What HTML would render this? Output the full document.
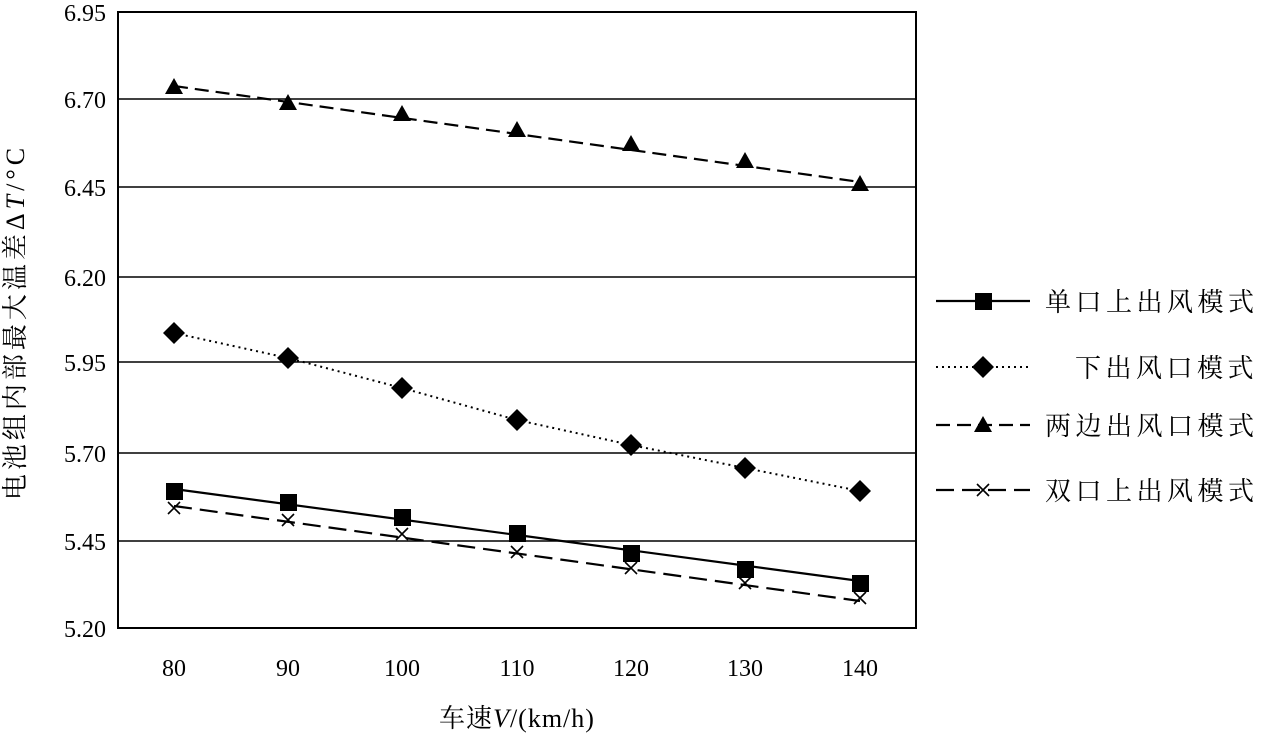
<!DOCTYPE html>
<html><head><meta charset="utf-8"><style>
body{margin:0;background:#fff}
svg text{font-family:"Liberation Serif","Noto Serif CJK SC",serif;fill:#000}
</style></head><body>
<svg width="1261" height="734" xmlns="http://www.w3.org/2000/svg">
<rect x="118" y="12" width="798" height="616" fill="none" stroke="#000" stroke-width="2"/>
<g stroke="#000" stroke-width="1.6">
<line x1="118" y1="99" x2="916" y2="99"/>
<line x1="118" y1="187" x2="916" y2="187"/>
<line x1="118" y1="277" x2="916" y2="277"/>
<line x1="118" y1="362" x2="916" y2="362"/>
<line x1="118" y1="453" x2="916" y2="453"/>
<line x1="118" y1="541" x2="916" y2="541"/>
</g>
<g font-size="24" text-anchor="end">
<text x="106" y="21">6.95</text><text x="106" y="108">6.70</text><text x="106" y="196">6.45</text>
<text x="106" y="286">6.20</text><text x="106" y="371">5.95</text><text x="106" y="462">5.70</text>
<text x="106" y="550">5.45</text><text x="106" y="637">5.20</text>
</g>
<g font-size="24" text-anchor="middle">
<text x="174" y="676">80</text><text x="288" y="676">90</text><text x="402" y="676">100</text>
<text x="517" y="676">110</text><text x="631" y="676">120</text><text x="745" y="676">130</text><text x="860" y="676">140</text>
<text x="517" y="727" font-size="26" letter-spacing="1">车速<tspan font-style="italic">V</tspan>/(km/h)</text>
</g>
<text transform="translate(24,322) rotate(-90)" font-size="26" letter-spacing="4" text-anchor="middle">电池组内部最大温差Δ<tspan font-style="italic">T</tspan>/°C</text>
<polyline points="174,86 860,182" fill="none" stroke="#000" stroke-width="2.2" stroke-dasharray="14,7"/>
<g fill="#000">
<polygon points="174,78 183,94 165,94"/><polygon points="288,94 297,110 279,110"/><polygon points="402,105 411,121 393,121"/>
<polygon points="517,121 526,137 508,137"/><polygon points="631,135 640,151 622,151"/><polygon points="745,152 754,168 736,168"/>
<polygon points="860,175 869,191 851,191"/>
</g>
<polyline points="174,333 288,358 402,388 517,420 631,445 745,468 860,491" fill="none" stroke="#000" stroke-width="2" stroke-dasharray="2,4"/>
<g fill="#000">
<polygon points="174,322 185,333 174,344 163,333"/><polygon points="288,347 299,358 288,369 277,358"/>
<polygon points="402,377 413,388 402,399 391,388"/><polygon points="517,409 528,420 517,431 506,420"/>
<polygon points="631,434 642,445 631,456 620,445"/><polygon points="745,457 756,468 745,479 734,468"/>
<polygon points="860,480 871,491 860,502 849,491"/>
</g>
<polyline points="174,489 860,581" fill="none" stroke="#000" stroke-width="2.2"/>
<g fill="#000">
<rect x="166" y="483" width="17" height="17"/><rect x="280" y="494" width="17" height="17"/><rect x="394" y="509" width="17" height="17"/>
<rect x="509" y="525" width="17" height="17"/><rect x="623" y="545" width="17" height="17"/><rect x="737" y="561" width="17" height="17"/>
<rect x="852" y="575" width="17" height="17"/>
</g>
<polyline points="174,506 860,601" fill="none" stroke="#000" stroke-width="2.2" stroke-dasharray="18,8"/>
<g stroke="#000" stroke-width="1.6">
<path d="M168,502l12,12M180,502l-12,12"/><path d="M282,514l12,12M294,514l-12,12"/><path d="M396,528l12,12M408,528l-12,12"/>
<path d="M511,546l12,12M523,546l-12,12"/><path d="M625,562l12,12M637,562l-12,12"/><path d="M739,577l12,12M751,577l-12,12"/>
<path d="M854,592l12,12M866,592l-12,12"/>
</g>
<line x1="936" y1="301" x2="1030" y2="301" stroke="#000" stroke-width="2.2"/>
<rect x="975" y="293" width="17" height="17" fill="#000"/>
<line x1="936" y1="367" x2="1030" y2="367" stroke="#000" stroke-width="2" stroke-dasharray="2,4"/>
<polygon points="983,356 994,367 983,378 972,367" fill="#000"/>
<line x1="936" y1="425" x2="1030" y2="425" stroke="#000" stroke-width="2.2" stroke-dasharray="14,7"/>
<polygon points="983,416 992,432 974,432" fill="#000"/>
<line x1="936" y1="490" x2="1030" y2="490" stroke="#000" stroke-width="2.2" stroke-dasharray="18,8"/>
<path d="M977,484l12,12M989,484l-12,12" stroke="#000" stroke-width="1.6"/>
<g font-size="26" letter-spacing="4.5">
<text x="1045" y="311">单口上出风模式</text>
<text x="1075" y="377">下出风口模式</text>
<text x="1045" y="435">两边出风口模式</text>
<text x="1045" y="500">双口上出风模式</text>
</g>
</svg>
</body></html>
